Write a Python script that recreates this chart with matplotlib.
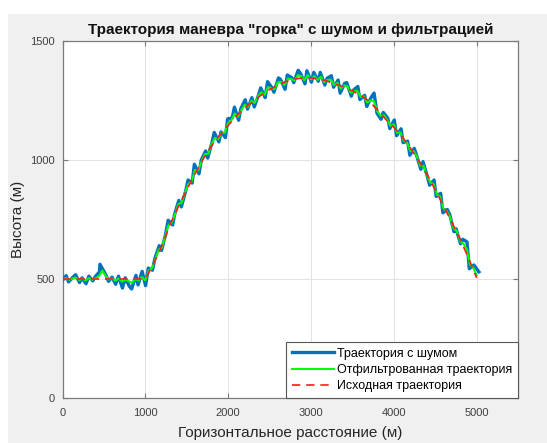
import numpy as np
import matplotlib
matplotlib.use('Agg')
import matplotlib.pyplot as plt
from matplotlib.patches import Rectangle

plt.rcParams['font.family'] = ['Liberation Sans', 'DejaVu Sans']

# reference path of the manoeuvre (m)
trueX = [0, 100, 200, 300, 400, 500, 600, 700, 800, 900, 1000,
         1100, 1200, 1300, 1400, 1500, 1600, 1700, 1800, 1900, 2000,
         2100, 2200, 2300, 2400, 2500, 2600, 2700, 2800, 2900, 3000,
         3100, 3200, 3300, 3400, 3500, 3600, 3700, 3800, 3900, 4000,
         4100, 4200, 4300, 4400, 4500, 4600, 4700, 4800, 4900, 5000]
trueY = [500, 500, 500, 500, 500, 500, 500, 500, 500, 500, 500,
         565, 640, 730, 805, 875, 942, 1005, 1060, 1105, 1145,
         1185, 1218, 1246, 1273, 1296, 1315, 1330, 1340, 1345, 1345,
         1340, 1331, 1318, 1307, 1290, 1272, 1248, 1212, 1172, 1138,
         1098, 1050, 998, 940, 875, 808, 738, 668, 590, 505]

# measured positions with noise
noisyX = [0, 44, 73, 127, 158, 206, 236, 284, 318, 366, 395, 447, 452, 527, 556, 598, 642, 676, 724, 757,
          806, 834, 887, 912, 962, 1003,
          1036, 1087, 1114, 1168, 1196, 1245, 1276, 1331, 1352, 1404, 1435, 1488, 1516, 1566, 1592, 1648, 1676,
          1728, 1753, 1806, 1832, 1888, 1914, 1967, 1994,
          2048, 2076, 2127, 2153, 2206, 2234, 2287, 2315, 2368, 2393, 2447, 2476, 2526, 2553, 2608, 2632, 2687,
          2714, 2768, 2792, 2846, 2873, 2928, 2951, 3006,
          3034, 3088, 3112, 3167, 3194, 3246, 3273, 3328, 3353, 3406, 3432, 3487, 3514, 3566, 3591, 3648, 3674,
          3727, 3762, 3797, 3846, 3873, 3928, 3952, 4006,
          4034, 4088, 4113, 4167, 4194, 4247, 4272, 4327, 4353, 4406, 4433, 4487, 4512, 4566, 4593, 4646, 4675,
          4727, 4752, 4806, 4834, 4884, 4912, 4967, 5028]
noisyY = [494, 514, 488, 508, 518, 485, 505, 480, 512, 492, 510, 530, 562, 515, 490, 508, 478, 512, 462, 505,
          470, 458, 515, 475, 532, 472,
          546, 537, 585, 640, 620, 688, 747, 727, 770, 830, 803, 871, 916, 903, 982, 942, 1000,
          1038, 1008, 1075, 1116, 1076, 1118, 1094, 1173,
          1176, 1222, 1167, 1215, 1253, 1214, 1262, 1223, 1274, 1303, 1262, 1329, 1305, 1285, 1345, 1339, 1297,
          1357, 1346, 1325, 1377, 1364, 1320, 1375, 1327,
          1368, 1331, 1368, 1315, 1343, 1354, 1306, 1336, 1281, 1322, 1325, 1268, 1294, 1309, 1254, 1272, 1225,
          1263, 1281, 1197, 1171, 1200, 1175, 1132, 1168,
          1102, 1131, 1073, 1079, 1020, 1049, 1023, 961, 993, 930, 894, 916, 847, 860, 778, 792, 772,
          699, 711, 648, 667, 656, 543, 559, 530]

# filter output
filtX = [0, 40, 80, 120, 160, 200, 240, 280, 320, 360, 400, 440, 480, 520, 560, 600, 640, 680, 720, 760,
         800, 840, 880, 920, 960, 1000,
         1040, 1080, 1120, 1160, 1200, 1240, 1280, 1320, 1360, 1400, 1440, 1480, 1520, 1560, 1600, 1640, 1680,
         1720, 1760, 1800, 1840, 1880, 1920, 1960, 2000,
         2040, 2080, 2120, 2160, 2200, 2240, 2280, 2320, 2360, 2400, 2440, 2480, 2520, 2560, 2600, 2640, 2680,
         2720, 2760, 2800, 2840, 2880, 2920, 2960, 3000,
         3040, 3080, 3120, 3160, 3200, 3240, 3280, 3320, 3360, 3400, 3440, 3480, 3520, 3560, 3600, 3640, 3680,
         3720, 3760, 3800, 3840, 3880, 3920, 3960, 4000,
         4040, 4080, 4120, 4160, 4200, 4240, 4280, 4320, 4360, 4400, 4440, 4480, 4520, 4560, 4600, 4640, 4680,
         4720, 4760, 4800, 4840, 4880, 4920, 4960, 5000]
filtY = [498, 504, 497, 502, 506, 496, 501, 494, 504, 497, 503, 512, 535, 514, 498, 502, 493, 502, 489, 498,
         490, 484, 500, 494, 508, 494,
         534, 546, 582, 622, 632, 681, 726, 738, 773, 815, 821, 865, 899, 910, 958, 957, 995,
         1025, 1026, 1066, 1093, 1088, 1115, 1115, 1156,
         1167, 1195, 1182, 1209, 1232, 1223, 1249, 1240, 1267, 1285, 1274, 1306, 1302, 1298, 1327, 1328, 1315,
         1342, 1340, 1334, 1356, 1352, 1335, 1357, 1338,
         1353, 1337, 1350, 1327, 1336, 1337, 1315, 1324, 1299, 1313, 1310, 1283, 1289, 1291, 1265, 1266, 1242,
         1250, 1248, 1206, 1186, 1188, 1169, 1144, 1150,
         1114, 1116, 1082, 1073, 1038, 1037, 1014, 976, 975, 936, 906, 899, 856, 845, 796, 785, 760,
         714, 702, 660, 649, 626, 561, 547, 515]

xTicks = [0, 1000, 2000, 3000, 4000, 5000]
yTicks = [0, 500, 1000, 1500]

fig = plt.figure(figsize=(5.47, 4.43), dpi=100, facecolor='white')
# grey window panel behind the axes
fig.patches.append(Rectangle((8 / 547, 0), 1, 1 - 14 / 443, transform=fig.transFigure,
                             facecolor='#f0f0f0', edgecolor='none', zorder=-10))

ax = fig.add_axes([62.5 / 547, 45 / 443, 455.5 / 547, 357 / 443])
ax.set_facecolor('white')

ax.plot(noisyX, noisyY, color='#0072bd', linewidth=2.4, label='Траектория с шумом', zorder=3)
ax.plot(filtX, filtY, color='#00ff00', linewidth=1.5, label='Отфильтрованная траектория', zorder=4)
ax.plot(trueX, trueY, color='#ff1a1a', linestyle='--', linewidth=1.2, dashes=(5, 3.5),
        label='Исходная траектория', zorder=5)

ax.set_xlim(0, 5500)
ax.set_ylim(0, 1500)
ax.set_xticks(xTicks)
ax.set_yticks(yTicks)
ax.grid(True, color='#e3e3e3', linewidth=0.7)
ax.set_axisbelow(True)

for s in ax.spines.values():
    s.set_color('#7a7a7a')
    s.set_linewidth(0.9)
ax.tick_params(direction='in', length=3.5, width=0.8, color='#7a7a7a',
               top=True, right=True, labelsize=8, labelcolor='#404040')
ax.tick_params(axis='x', pad=7)
ax.tick_params(axis='y', pad=5.5)

ax.set_xlabel('Горизонтальное расстояние (м)', fontsize=11, color='#262626', labelpad=6)
ax.set_ylabel('Высота (м)', fontsize=11, color='#262626', labelpad=4)
ax.set_title('Траектория маневра "горка" с шумом и фильтрацией', fontsize=11,
             fontweight='bold', color='#111111', pad=5)

leg = ax.legend(loc='lower right', bbox_to_anchor=(1, 0), borderaxespad=0, fontsize=9,
                fancybox=False, framealpha=1, edgecolor='#555555', handlelength=3.4,
                handletextpad=0.25, labelspacing=0.35, borderpad=0.45)
leg.get_frame().set_linewidth(0.8)

fig.savefig('out.png', dpi=100)
